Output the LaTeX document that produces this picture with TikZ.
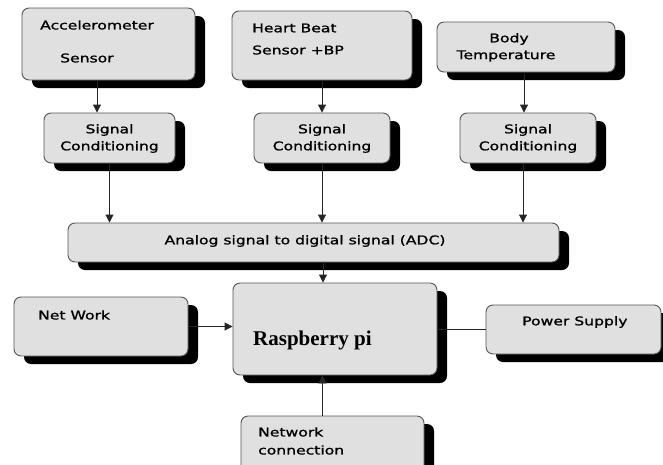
\documentclass[tikz,border=0pt]{standalone}
\usepackage{fontspec}
\setmainfont{DejaVu Sans}[FakeStretch=1.3,FakeBold=1.2]
\newfontfamily\rpifont{Liberation Serif}
\usetikzlibrary{shadows,arrows.meta}
\definecolor{boxfill}{HTML}{E0E0E0}
\definecolor{boxline}{HTML}{555555}
\tikzset{
  blk/.style={draw=boxline, line width=0.9pt, fill=boxfill, rounded corners=7pt,
    drop shadow={shadow xshift=10pt, shadow yshift=-8pt, opacity=1, fill=black},
    inner sep=0pt},
  lbl/.style={inner sep=0pt, font=\fontsize{12}{14}\selectfont},
  arr/.style={line width=0.9pt, draw=black!85, -{Triangle[length=8pt,width=8pt]}},
  ln/.style={line width=0.9pt, draw=black!85}
}
\newcommand{\mkbox}[5]{% name, left, top, right, bottom
  \node[blk, minimum width={(#4-#2)*1pt}, minimum height={(#5-#3)*1pt}] (#1) at ({(#2+#4)/2},{(#3+#5)/2}) {};}
\begin{document}
\begin{tikzpicture}[x=1pt,y=-1pt]
\useasboundingbox (0,0) rectangle (663,464);
\fill[white] (0,0) rectangle (663,464);
\mkbox{acc}{22}{8}{195}{80}
\mkbox{hb}{232}{11}{412}{80}
\mkbox{bt}{437}{22}{615}{72}
\mkbox{scA}{44}{113}{175}{163}
\mkbox{scB}{254}{113}{390}{163}
\mkbox{scC}{460}{113}{596}{163}
\mkbox{adc}{68}{223}{559}{262}
\mkbox{rpi}{233}{283}{437}{375}
\mkbox{net}{14}{297}{188}{356}
\mkbox{ps}{486}{305}{661}{354}
\mkbox{nc}{241}{416}{424}{478}
% texts
\node[lbl, anchor=west] (tacc1) at (40,25) {Accelerometer};
\node[lbl, anchor=west] (tacc2) at (60,58) {Sensor};
\node[lbl, anchor=west] (thb1) at (252,28) {Heart Beat};
\node[lbl, anchor=west] (thb2) at (252,50) {Sensor +BP};
\node[lbl] (tbt1) at (509,39) {Body};
\node[lbl] (tbt2) at (506,56) {Temperature};
\foreach \s in {scA,scB,scC}{
  \node[lbl] (\s t1) at ([yshift=8pt]\s.center) {Signal};
  \node[lbl] (\s t2) at ([yshift=-9pt]\s.center) {Conditioning};
}
\node[lbl] (tadc) at (305,241) {Analog signal to digital signal (ADC)};
\node[lbl, anchor=west] (tnet) at (38,315) {Net Work};
\node[inner sep=0pt, anchor=west, font=\rpifont\bfseries\fontsize{21}{24}\selectfont] (trpi) at (253,340) {Raspberry pi};
\node[lbl, anchor=west] (tps) at (522,322) {Power Supply};
\node[lbl, anchor=west] (tnc1) at (258,432) {Network};
\node[lbl, anchor=west] (tnc2) at (258,450) {connection};
% connectors
\draw[arr] ([xshift=-11.5pt]acc.south) -- ([xshift=-11.5pt]acc.south |- scA.north);
\draw[arr] (hb.south) -- (hb.south |- scB.north);
\draw[arr] ([xshift=-2pt]bt.south) -- ([xshift=-2pt]bt.south |- scC.north);
\draw[arr] (scA.south) -- (scA.south |- adc.north);
\draw[arr] (scB.south) -- (scB.south |- adc.north);
\draw[arr] ([xshift=-5pt]scC.south) -- ([xshift=-5pt]scC.south |- adc.north);
\draw[arr] ([xshift=-12pt]rpi.north |- adc.south) -- ([xshift=-12pt]rpi.north);
\draw[arr] (net.east) -- (net.east -| rpi.west);
\draw[ln] (ps.west) -- (ps.west -| rpi.east);
\draw[arr] ([xshift=-10pt]nc.north) -- ([xshift=-10pt]nc.north |- rpi.south);
\end{tikzpicture}
\end{document}
